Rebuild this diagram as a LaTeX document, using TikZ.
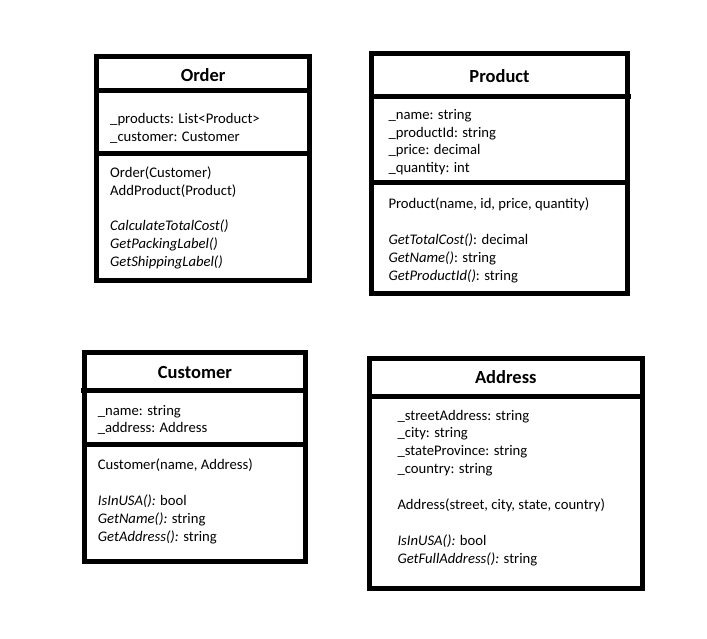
\documentclass[tikz,border=0pt]{standalone}
\usepackage{fontspec}
\setmainfont{Carlito}
\begin{document}
\begin{tikzpicture}[x=1pt,y=-1pt,
  box/.style={draw, line width=5pt, inner sep=0pt},
  sep/.style={line width=5pt},
  txt/.style={anchor=base west, inner sep=0pt, font=\fontsize{14.67}{17.8}\selectfont},
  ttl/.style={anchor=base, inner sep=0pt, font=\fontsize{18.5}{20}\selectfont\bfseries}]
\useasboundingbox (0,0) rectangle (707,639);
\fill[white] (0,0) rectangle (707,639);

% ---------- Order ----------
\node[box, minimum width=213.3pt, minimum height=223.5pt] (order) at (203.15,168.25) {};
\coordinate (os1) at (0,91);
\coordinate (os2) at (0,153.5);
\draw[sep] (order.west |- os1) -- (order.east |- os1);
\draw[sep] (order.west |- os2) -- (order.east |- os2);
\node[ttl] (ot) at (203.15,81.7) {Order};
\node[txt] (o1) at (110,123.3) {\_products: List<Product>};
\node[txt] (o2) at (110,141.1) {\_customer: Customer};
\node[txt] (o3) at (110,177.3) {Order(Customer)};
\node[txt] (o4) at (110,195.1) {AddProduct(Product)};
\node[txt] (o5) at (110,231.0) {\itshape CalculateTotalCost()};
\node[txt] (o6) at (110,248.8) {\itshape GetPackingLabel()};
\node[txt] (o7) at (110,266.6) {\itshape GetShippingLabel()};

% ---------- Product ----------
\node[box, minimum width=256pt, minimum height=239.5pt] (product) at (499.5,173.25) {};
\coordinate (ps1) at (631,97);
\coordinate (ps2) at (0,182.5);
\draw[sep] (product.west |- ps1) -- (ps1);
\draw[sep] (product.west |- ps2) -- (product.east |- ps2);
\node[ttl] (pt) at (499.5,82.7) {Product};
\node[txt] (p1) at (388.3,119.3) {\_name: string};
\node[txt] (p2) at (388.3,137.1) {\_productId: string};
\node[txt] (p3) at (388.3,154.9) {\_price: decimal};
\node[txt] (p4) at (388.3,172.7) {\_quantity: int};
\node[txt] (p5) at (388.3,209.0) {Product(name, id, price, quantity)};
\node[txt] (p6) at (388.3,244.6) {\textit{GetTotalCost()}: decimal};
\node[txt] (p7) at (388.3,262.4) {\textit{GetName()}: string};
\node[txt] (p8) at (388.3,280.2) {\textit{GetProductId()}: string};

% ---------- Customer ----------
\node[box, minimum width=220.2pt, minimum height=209pt] (customer) at (194.9,457) {};
\coordinate (cs1) at (81,390);
\coordinate (cs2) at (0,444);
\draw[sep] (cs1) -- (customer.east |- cs1);
\draw[sep] (customer.west |- cs2) -- (customer.east |- cs2);
\node[ttl] (ct) at (194.9,378.2) {Customer};
\node[txt] (c1) at (97.7,415.0) {\_name: string};
\node[txt] (c2) at (97.7,432.8) {\_address: Address};
\node[txt] (c3) at (97.7,469.3) {Customer(name, Address)};
\node[txt] (c4) at (97.7,505.4) {\textit{IsInUSA():} bool};
\node[txt] (c5) at (97.7,523.2) {\textit{GetName():} string};
\node[txt] (c6) at (97.7,541.0) {\textit{GetAddress():} string};

% ---------- Address ----------
\node[box, minimum width=273.5pt, minimum height=230pt] (address) at (505.75,473) {};
\coordinate (as1) at (0,396.5);
\draw[sep] (address.west |- as1) -- (address.east |- as1);
\node[ttl] (at) at (505.75,383.3) {Address};
\node[txt] (a1) at (397.3,420.0) {\_streetAddress: string};
\node[txt] (a2) at (397.3,437.8) {\_city: string};
\node[txt] (a3) at (397.3,455.6) {\_stateProvince: string};
\node[txt] (a4) at (397.3,473.4) {\_country: string};
\node[txt] (a5) at (397.3,509.5) {Address(street, city, state, country)};
\node[txt] (a6) at (397.3,545.6) {\textit{IsInUSA():} bool};
\node[txt] (a7) at (397.3,563.4) {\textit{GetFullAddress():} string};
\end{tikzpicture}
\end{document}
